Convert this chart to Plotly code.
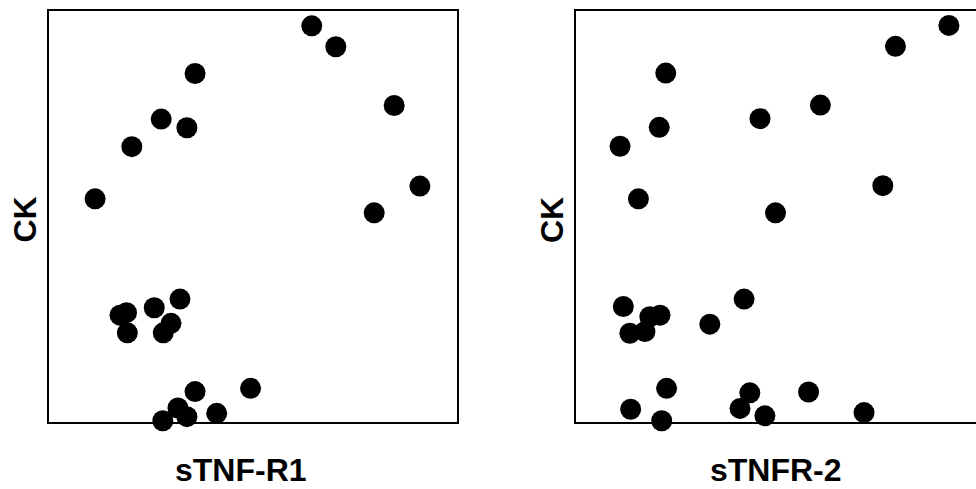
import plotly.graph_objects as go

# Left panel: sTNF-R1 vs CK (arbitrary units, 0-100)
r1_x = [64.4, 70.3, 35.8, 84.6, 27.5, 33.8, 20.3, 90.9, 11.3, 79.7,
        17.4, 19.0, 19.2, 25.8, 32.1, 28.0, 29.9,
        35.8, 31.6, 33.8, 27.9, 41.1, 49.4]
r1_ck = [96.4, 91.3, 84.8, 77.0, 73.7, 71.6, 67.0, 57.4, 54.3, 50.9,
         26.0, 26.6, 21.7, 27.8, 29.9, 21.7, 24.0,
         7.4, 3.4, 1.3, 0.3, 2.1, 8.2]

# Right panel: sTNFR-2 vs CK
r2_x = [91.4, 78.3, 22.0, 59.9, 45.1, 20.4, 10.8, 75.2, 15.3, 48.9,
        11.6, 18.1, 20.6, 13.2, 16.9, 32.8, 41.2,
        13.4, 22.2, 21.0, 42.6, 40.2, 46.3, 57.0, 70.6]
r2_ck = [96.5, 91.4, 84.9, 77.1, 73.8, 71.7, 67.1, 57.5, 54.3, 50.9,
         28.1, 25.6, 26.0, 21.6, 22.0, 23.8, 29.9,
         3.1, 8.2, 0.3, 7.1, 3.3, 1.5, 7.3, 2.3]

x_titles = ["sTNF-R1", "sTNFR-2"]
y_title = "CK"

W, H = 976, 489
fig = go.Figure()

marker = dict(color="black", size=21, line=dict(width=0))
fig.add_trace(go.Scatter(x=r1_x, y=r1_ck, mode="markers", marker=marker,
                         cliponaxis=False, xaxis="x", yaxis="y", showlegend=False))
fig.add_trace(go.Scatter(x=r2_x, y=r2_ck, mode="markers", marker=marker,
                         cliponaxis=False, xaxis="x2", yaxis="y2", showlegend=False))

ytop = 1 - 11 / H
ybot = 1 - 422 / H
ax_common = dict(showgrid=False, zeroline=False, showticklabels=False, ticks="",
                 showline=True, linecolor="black", linewidth=2, fixedrange=True)

fig.update_layout(
    width=W, height=H,
    margin=dict(l=0, r=0, t=0, b=0),
    paper_bgcolor="white", plot_bgcolor="white",
    xaxis=dict(domain=[49 / W, 457 / W], range=[0, 100], mirror=True, anchor="y", **ax_common),
    yaxis=dict(domain=[ybot, ytop], range=[0, 100], mirror=True, anchor="x", **ax_common),
    xaxis2=dict(domain=[576 / W, 1.0], range=[0, 400 / 4.08], mirror=True, anchor="y2", **ax_common),
    yaxis2=dict(domain=[ybot, ytop], range=[0, 100], mirror=False, anchor="x2", **ax_common),
    font=dict(family="Liberation Sans, Arial, sans-serif", color="black"),
)

tfont = dict(family="Liberation Sans, Arial, sans-serif", size=32, color="black")
fig.add_annotation(text="<b>%s</b>" % x_titles[0], xref="paper", yref="paper",
                   x=241 / W, y=0, xanchor="center", yanchor="bottom", borderpad=0,
                   showarrow=False, font=tfont)
fig.add_annotation(text="<b>%s</b>" % x_titles[1], xref="paper", yref="paper",
                   x=775.5 / W, y=0, xanchor="center", yanchor="bottom", borderpad=0,
                   showarrow=False, font=tfont)
fig.add_annotation(text="<b>%s</b>" % y_title, xref="paper", yref="paper",
                   x=24.5 / W, y=1 - 220 / H, xanchor="center", yanchor="middle",
                   textangle=-90, showarrow=False, font=tfont)
fig.add_annotation(text="<b>%s</b>" % y_title, xref="paper", yref="paper",
                   x=552 / W, y=1 - 220 / H, xanchor="center", yanchor="middle",
                   textangle=-90, showarrow=False, font=tfont)

fig.write_html("out.html")
